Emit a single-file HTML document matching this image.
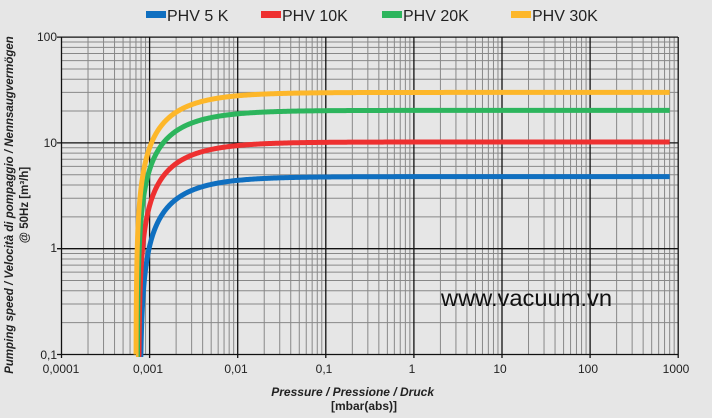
<!DOCTYPE html><html><head><style>body{margin:0;background:#e6e6e6;width:712px;height:418px;overflow:hidden}svg{display:block}text{font-family:"Liberation Sans",sans-serif}</style></head><body>
<svg id="s" width="712" height="418" xmlns="http://www.w3.org/2000/svg">
<g id="grid"></g><g id="curves"></g>
<g font-size="16" fill="#222">
<rect x="146" y="11" width="20" height="7" fill="#0f6fc0"/><text x="167" y="21">PHV 5 K</text>
<rect x="261" y="11" width="20" height="7" fill="#ee3030"/><text x="282" y="21">PHV 10K</text>
<rect x="382" y="11" width="20" height="7" fill="#2db55d"/><text x="403" y="21">PHV 20K</text>
<rect x="511" y="11" width="20" height="7" fill="#fdb72a"/><text x="532" y="21">PHV 30K</text>
</g>
<g font-size="12" fill="#222">
<text x="57" y="41" text-anchor="end">100</text><text x="57" y="147" text-anchor="end">10</text>
<text x="57" y="252" text-anchor="end">1</text><text x="57" y="359" text-anchor="end">0,1</text>
<text x="61" y="373" text-anchor="middle">0,0001</text><text x="148" y="373" text-anchor="middle">0,001</text>
<text x="236" y="373" text-anchor="middle">0,01</text><text x="324" y="373" text-anchor="middle">0,1</text>
<text x="412" y="373" text-anchor="middle">1</text><text x="500" y="373" text-anchor="middle">10</text>
<text x="588" y="373" text-anchor="middle">100</text><text x="676" y="373" text-anchor="middle">1000</text>
</g>
<text x="434" y="396" font-size="12" font-weight="bold" font-style="italic" text-anchor="end" fill="#222">Pressure / Pressione / Druck</text>
<text x="364" y="410" font-size="12" font-weight="bold" text-anchor="middle" fill="#222">[mbar(abs)]</text>
<text transform="translate(13,205) rotate(-90)" font-size="11.5" font-weight="bold" font-style="italic" text-anchor="middle" fill="#222">Pumping speed / Velocità di pompaggio / Nennsaugvermögen</text>
<text transform="translate(28,205) rotate(-90)" font-size="11.5" font-weight="bold" text-anchor="middle" fill="#222">@ 50Hz [m³/h]</text>
<text x="441" y="306" font-size="23" fill="#111" textLength="171" lengthAdjust="spacingAndGlyphs">www.vacuum.vn</text>
</svg>
<script>
var X0=61.5,XD=88.1,Y0=354.5,YD=105.8;
function X(p){return X0+(Math.log10(p)+4)*XD}function Y(v){return Y0-(Math.log10(v)+1)*YD}
var g='';
for(var d=-4;d<3;d++)for(var k=2;k<10;k++){var x=X(k*Math.pow(10,d));g+='<line x1="'+x+'" y1="37" x2="'+x+'" y2="354.5" stroke="#888" stroke-width="1"/>'}
for(var d=-1;d<2;d++)for(var k=2;k<10;k++){var y=Y(k*Math.pow(10,d));g+='<line x1="61.5" y1="'+y+'" x2="678" y2="'+y+'" stroke="#888" stroke-width="1"/>'}
for(var d=-4;d<=3;d++){var x=X(Math.pow(10,d));g+='<line x1="'+x+'" y1="37" x2="'+x+'" y2="358" stroke="#111" stroke-width="1.3"/>'}
for(var d=-1;d<=2;d++){var y=Y(Math.pow(10,d));g+='<line x1="57" y1="'+y+'" x2="678" y2="'+y+'" stroke="#111" stroke-width="1.3"/>'}
document.getElementById('grid').innerHTML=g;
var cs=[[4.8,0.00078,'#0f6fc0'],[10.2,0.00075,'#ee3030'],[20.3,0.000725,'#2db55d'],[30,0.0007,'#fdb72a']],c='';
cs.forEach(function(s){var pts=[];var p=s[1]*1.0013;for(var i=0;i<=400;i++){var lp=Math.log10(p)+(Math.log10(800)-Math.log10(p))*Math.pow(i/400,2.2);var pp=Math.pow(10,lp);var v=s[0]*(1-s[1]/pp);if(v<0.1)v=0.1;pts.push(X(pp).toFixed(2)+','+Y(v).toFixed(2))}
c+='<polyline points="'+X(s[1]).toFixed(2)+','+Y0+' '+pts.join(' ')+'" fill="none" stroke="'+s[2]+'" stroke-width="5"/>'});
document.getElementById('curves').innerHTML=c;
</script></body></html>
